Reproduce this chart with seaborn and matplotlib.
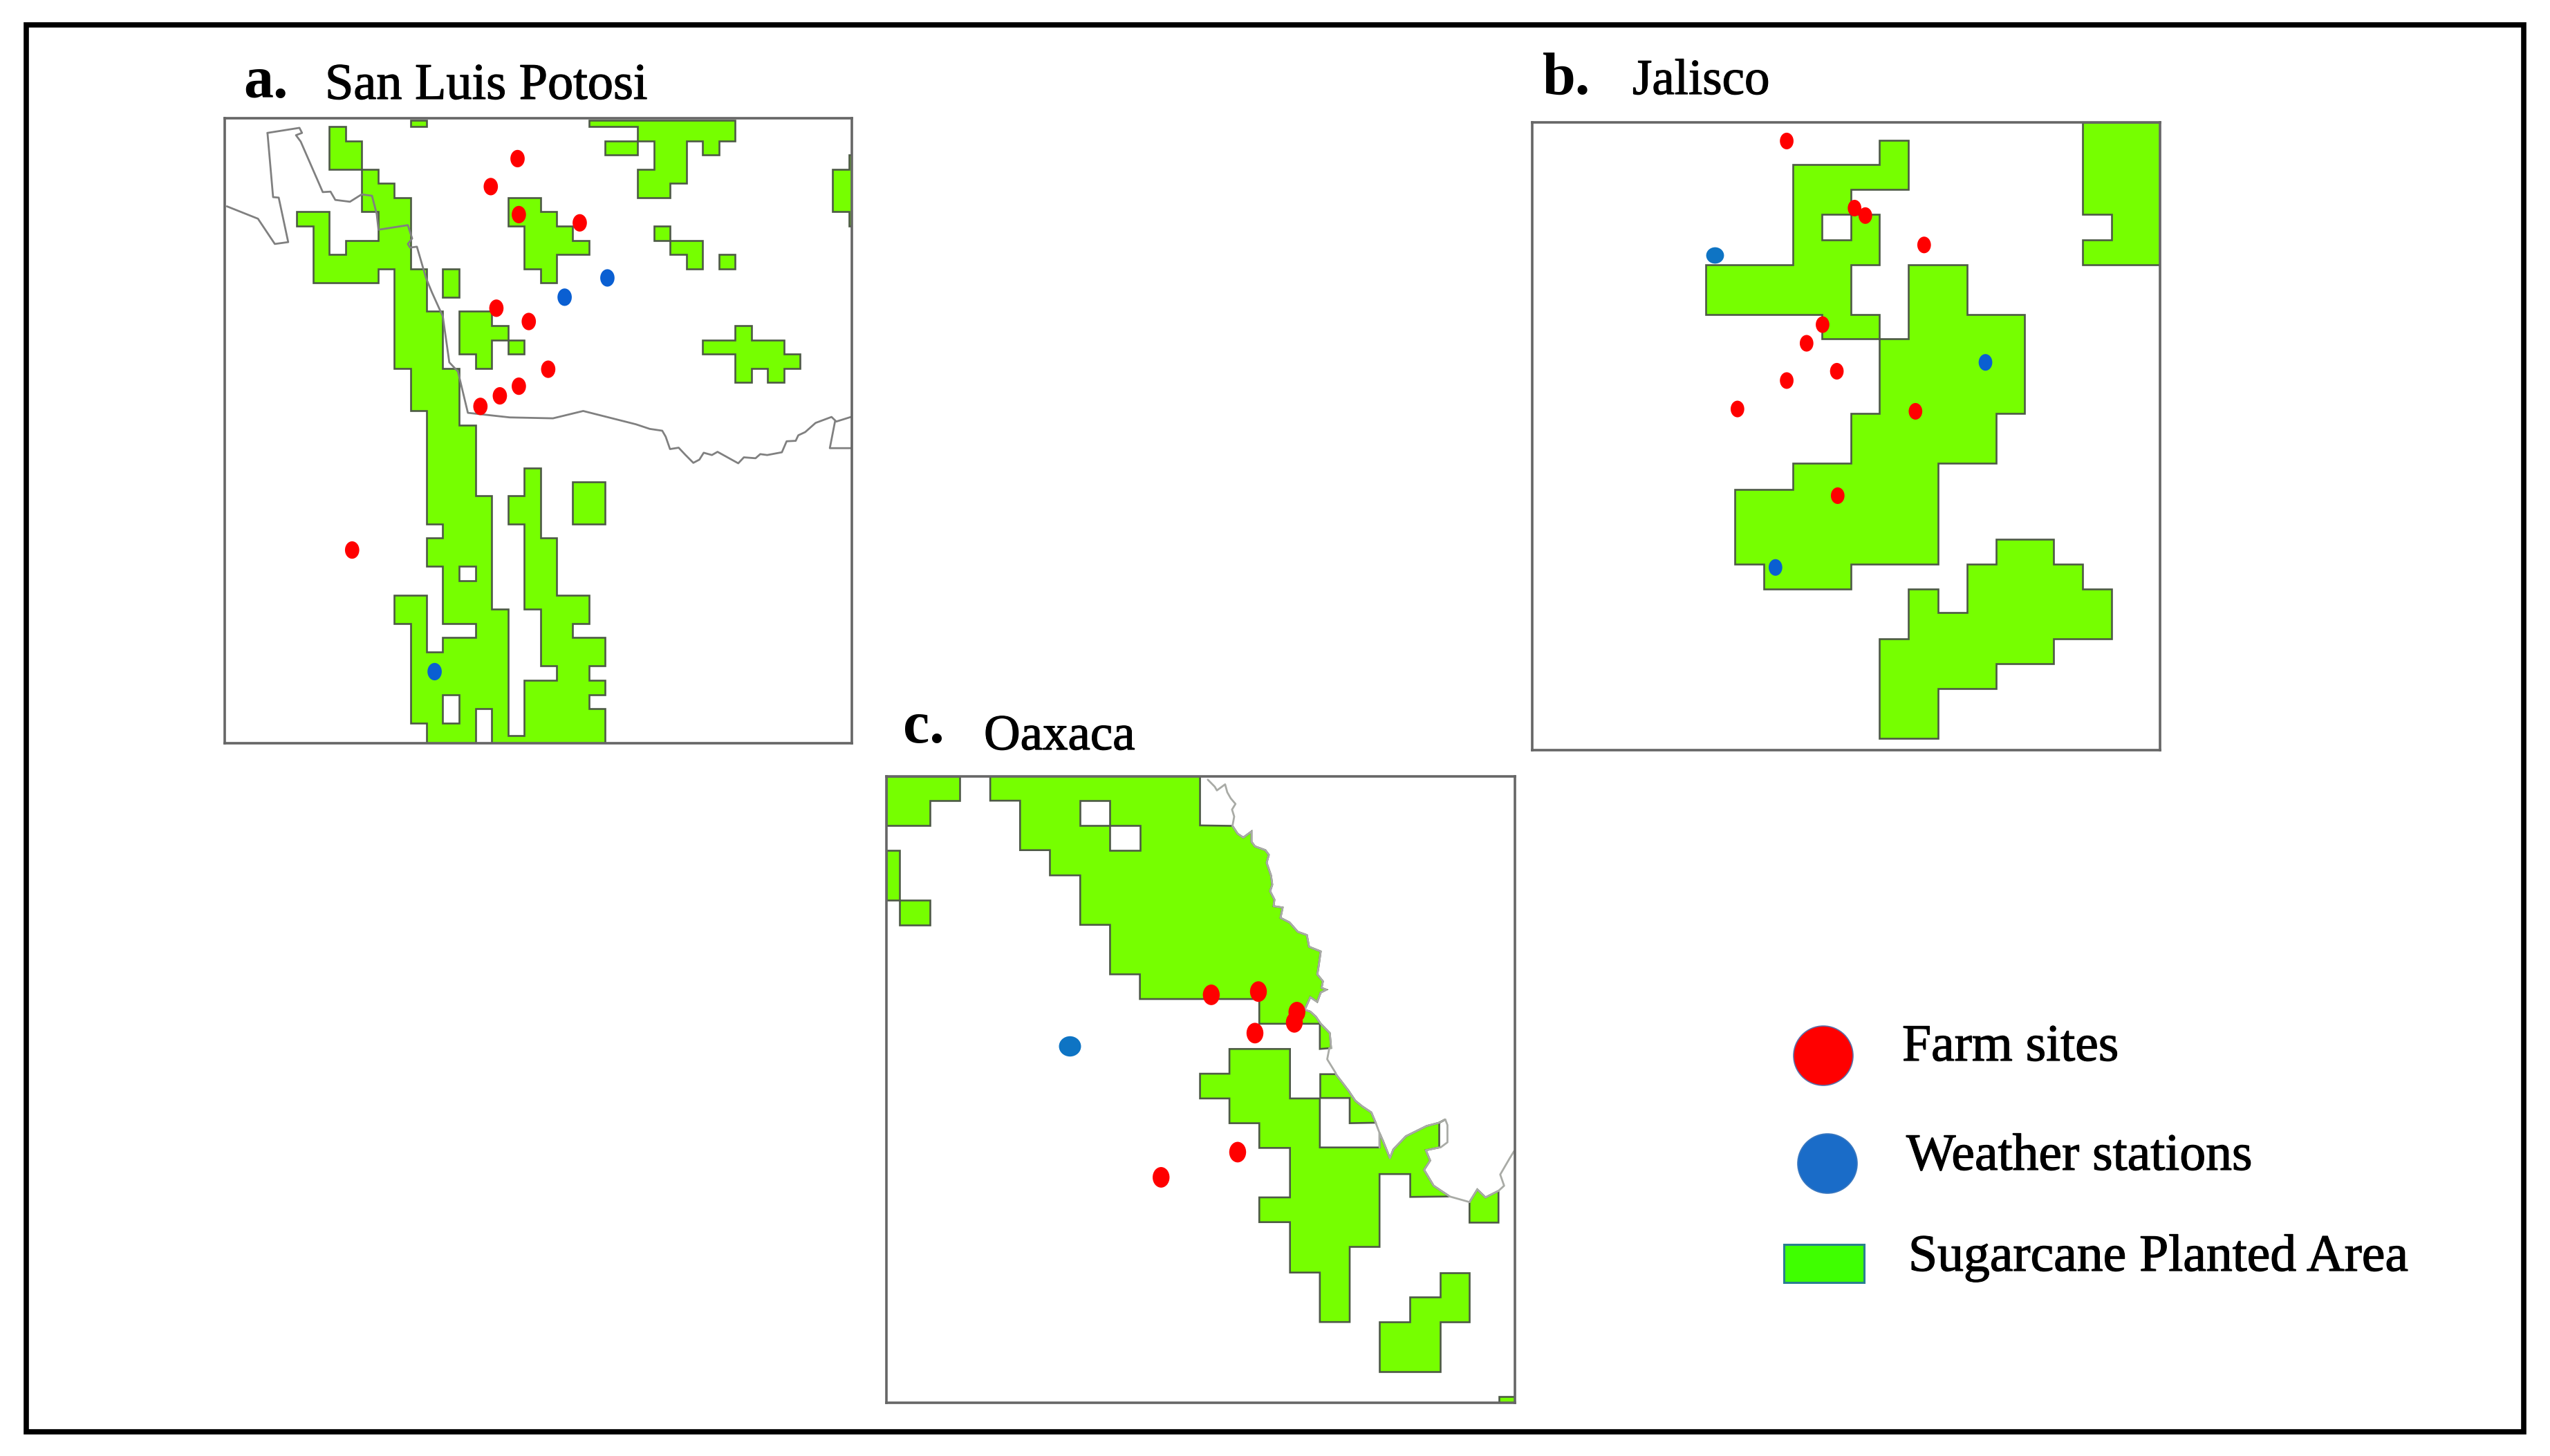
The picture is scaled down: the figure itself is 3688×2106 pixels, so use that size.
import matplotlib
matplotlib.use("Agg")
import matplotlib.pyplot as plt
import matplotlib.patheffects as pe
import pandas as pd
import seaborn as sns
from matplotlib.path import Path
from matplotlib.patches import Rectangle, Circle
from matplotlib.transforms import Affine2D

# ---------- text ----------
panel_letters = ["a.", "b.", "c."]
panel_names = ["San Luis Potosi", "Jalisco", "Oaxaca"]
legend_labels = ["Farm sites", "Weather stations", "Sugarcane Planted Area"]

# ---------- Panel a (map units) ----------
a_limits = (40, 1492, 1530, 168)
a_areas = [
    [(282,186),(320,186),(320,217),(357,217),(357,279),(395,279),(395,310),(432,310),(432,341),(470,341),
     (470,496),(508,496),(508,589),(545,589),(545,713),(583,713),(583,837),(621,837),(621,990),(658,990),
     (658,1238),(696,1238),(696,1514),(733,1514),(733,1393),(808,1393),(808,1362),(771,1362),(771,1238),
     (733,1238),(733,1052),(696,1052),(696,990),(733,990),(733,930),(771,930),(771,1083),(808,1083),
     (808,1207),(883,1207),(883,1269),(846,1269),(846,1300),(921,1300),(921,1362),(883,1362),(883,1393),
     (921,1393),(921,1424),(883,1424),(883,1455),(921,1455),(921,1530),(658,1530),(658,1455),(621,1455),
     (621,1530),(508,1530),(508,1486),(470,1486),(470,1269),(432,1269),(432,1207),(508,1207),(508,1331),
     (545,1331),(545,1300),(621,1300),(621,1269),(545,1269),(545,1145),(508,1145),(508,1083),(545,1083),
     (545,1052),(508,1052),(508,806),(470,806),(470,713),(432,713),(432,496),(395,496),(395,527),(245,527),
     (245,403),(207,403),(207,372),(282,372),(282,465),(320,465),(320,434),(395,434),(395,372),(357,372),
     (357,279),(282,279)],
    [(470,172),(508,172),(508,186),(470,186)],
    [(883,172),(1222,172),(1222,217),(1184,217),(1184,248),(1147,248),(1147,217),(1109,217),(1109,310),
     (1071,310),(1071,341),(996,341),(996,279),(1034,279),(1034,217),(996,217),(996,186),(883,186)],
    [(921,217),(996,217),(996,248),(921,248)],
    [(1447,279),(1485,279),(1485,248),(1492,248),(1492,403),(1485,403),(1485,372),(1447,372)],
    [(696,341),(771,341),(771,372),(808,372),(808,403),(846,403),(846,434),(883,434),(883,465),(808,465),
     (808,527),(771,527),(771,496),(733,496),(733,403),(696,403)],
    [(1034,403),(1071,403),(1071,434),(1147,434),(1147,496),(1109,496),(1109,465),(1071,465),(1071,434),(1034,434)],
    [(1184,465),(1222,465),(1222,496),(1184,496)],
    [(545,496),(583,496),(583,558),(545,558)],
    [(583,589),(658,589),(658,620),(696,620),(696,651),(658,651),(658,713),(621,713),(621,682),(583,682)],
    [(696,651),(733,651),(733,682),(696,682)],
    [(1222,620),(1260,620),(1260,651),(1335,651),(1335,682),(1372,682),(1372,713),(1335,713),(1335,744),
     (1297,744),(1297,713),(1260,713),(1260,744),(1222,744),(1222,682),(1147,682),(1147,651),(1222,651)],
    [(846,961),(921,961),(921,1052),(846,1052)],
]
a_holes = [
    [(583,1145),(621,1145),(621,1176),(583,1176)],
    [(545,1424),(583,1424),(583,1486),(545,1486)],
]
a_borders = [
    [(139,200),(213,189),(219,200),(205,205),(216,219),(267,329),(285,328),(296,346),(330,350),(357,334),
     (381,337),(392,377),(396,411),(464,401),(474,430),(464,442),(469,450),(485,448),(506,516),(520,548),
     (545,600),(560,700),(580,720),(603,810),(700,820),(800,822),(870,806),(992,835),(1024,845),(1053,849),
     (1061,862),(1071,889),(1091,886),(1107,902),(1125,919),(1139,912),(1149,897),(1168,902),(1181,895),
     (1229,920),(1242,907),(1269,909),(1280,900),(1296,902),(1330,896),(1341,872),(1362,871),(1368,859),
     (1384,852),(1408,832),(1445,819),(1456,829),(1490,819)],
    [(139,200),(152,340),(165,341),(187,438),(156,442),(117,387),(45,360)],
    [(1453,829),(1441,887),(1490,887)],
]
a_farm_x = [718,656,721,862,669,744,789,721,677,632,335]
a_farm_y = [256,317,378,396,582,611,715,752,773,796,1109]
a_station_x = [926,827,526]
a_station_y = [516,558,1374]
a_pale_x = []
a_pale_y = []

# ---------- Panel b (map units) ----------
b_limits = (25, 1478, 1520, 173)
b_areas = [
    [(829,211),(896,211),(896,317),(762,317),(762,371),(829,371),(829,478),(762,478),(762,585),(829,585),
     (829,638),(896,638),(896,478),(1031,478),(1031,585),(1164,585),(1164,798),(1098,798),(1098,905),
     (964,905),(964,1121),(762,1121),(762,1175),(561,1175),(561,1121),(494,1121),(494,960),(629,960),
     (629,905),(762,905),(762,798),(829,798),(829,638),(696,638),(696,585),(427,585),(427,478),(629,478),
     (629,264),(829,264)],
    [(1299,173),(1478,173),(1478,478),(1299,478),(1299,425),(1366,425),(1366,371),(1299,371)],
    [(1098,1067),(1231,1067),(1231,1121),(1299,1121),(1299,1175),(1366,1175),(1366,1281),(1231,1281),
     (1231,1334),(1098,1334),(1098,1388),(964,1388),(964,1495),(829,1495),(829,1281),(896,1281),(896,1175),
     (964,1175),(964,1225),(1031,1225),(1031,1121),(1098,1121)],
]
b_holes = [[(696,371),(762,371),(762,425),(696,425)]]
b_borders = []
b_farm_x = [614,771,796,932,697,660,730,614,500,912,732]
b_farm_y = [213,357,373,436,607,647,707,727,788,793,974]
b_station_x = [1074,588]
b_station_y = [688,1128]
b_pale_x = [447]
b_pale_y = [458]

# ---------- Panel c (map units) ----------
c_limits = (20, 1473, 1495, 153)
c_north_coast = [(820,259),(832,276),(845,284),(864,271),(864,293),(872,303),(896,311),(904,321),(899,338),
                 (909,365),(912,385),(907,399),(917,417),(915,431),(936,434),(931,456),(952,466),(971,486),
                 (992,493),(997,518),(1024,528),(1018,567),(1016,577),(1029,592),(1026,606),(1037,610),
                 (1024,616),(1016,636),(1000,626),(987,653),(1000,657),(1013,668),(1024,683),(1045,703),(1048,735)]
c_bay_coast = [(1160,948),(1160,917),(1168,934),(1184,971),(1192,952),(1221,924),(1269,902),(1298,895),(1312,888)]
c_inner_coast = [(1298,948),(1267,954),(1277,976),(1263,996),(1285,1030),(1322,1053)]
c_strip_coast = [(1059,791),(1088,826),(1104,848),(1120,860),(1141,873),(1151,895)]
c_cape_coast = [(1368,1065),(1386,1038),(1405,1055),(1435,1041)]
c_areas = [
    [(20,153),(190,153),(190,205),(120,205),(120,258),(20,258)],
    [(20,311),(51,311),(51,418),(120,418),(120,471),(51,471),(51,418),(20,418)],
    [(260,153),(745,153),(745,258)] + c_north_coast +
    [(1022,737),(1022,683),(882,683),(882,630),(606,630),(606,577),(537,577),
     (537,471),(468,471),(468,365),(398,365),(398,311),(329,311),(329,205),(260,205)],
    [(813,737),(953,737),(953,843),(1022,843),(1022,948)] + c_bay_coast +
    [(1298,895)] + c_inner_coast +
    [(1231,1054),(1231,1005),(1160,1005),(1160,1161),(1091,1161),(1091,1322),(1022,1322),(1022,1216),(953,1216),
     (953,1108),(882,1108),(882,1055),(953,1055),(953,949),(882,949),(882,896),(813,896),(813,843),(745,843),
     (745,790),(813,790)],
    [(1023,791)] + c_strip_coast + [(1091,896),(1091,842),(1023,842)],
    c_cape_coast + [(1435,1109),(1368,1109)],
    [(1300,1216),(1367,1216),(1367,1322),(1300,1322),(1300,1428),(1160,1428),(1160,1322),(1230,1322),
     (1230,1269),(1300,1269)],
    [(1437,1481),(1473,1481),(1473,1495),(1437,1495)],
]
c_holes = [
    [(468,205),(537,205),(537,258),(468,258)],
    [(537,258),(606,258),(606,311),(537,311)],
]
c_borders = [
    [(763,160),(779,175),(784,183),(803,170),(808,187),(816,200),(827,212),(819,224),(824,239),(820,259)],
    c_north_coast,
    [(1044,735),(1039,759),(1059,789)],
    c_strip_coast,
    [(1151,895),(1160,917)],
    c_bay_coast,
    [(1312,888),(1317,900),(1317,937),(1301,948)],
    c_inner_coast,
    [(1322,1053),(1368,1065)],
    c_cape_coast,
    [(1435,1041),(1448,1030),(1439,1006),(1461,971),(1471,956)],
]
c_farm_x = [771,880,963,969,872,832,655]
c_farm_y = [621,614,680,658,703,958,1012]
c_station_x = []
c_station_y = []
c_pale_x = [443]
c_pale_y = [730]

# ---------- styling ----------
sns.set_theme(style="white")
plt.rcParams["font.family"] = ["Liberation Serif", "DejaVu Serif"]

W, H = 3688, 2106
GREEN = "#76ff00"
RED = "#ff0000"
BLUE = "#0a5fd2"
PALE = "#0e74c4"
FRAME = "#666666"
EDGE = "#4d5a45"
BORDER_A = "#808080"
BORDER_C = "#a9aba6"

fig = plt.figure(figsize=(W / 100, H / 100), dpi=100, facecolor="white")

# page layer in pixel coordinates
page = fig.add_axes([0, 0, 1, 1], zorder=0)
page.set_xlim(0, W)
page.set_ylim(H, 0)
page.axis("off")
page.add_patch(Rectangle((37.5, 36), 3612, 2035, fill=False, ec="black", lw=5.5, joinstyle="miter"))

ellipse = Path.unit_circle().transformed(Affine2D().scale(0.82, 1.0))
wide = Path.unit_circle().transformed(Affine2D().scale(1.0, 0.92))


def draw_panel(box, limits, areas, holes, borders, border_color,
               fx, fy, sx, sy, px, py, dot):
    left, right, bottom, top = box
    ax = fig.add_axes([left / W, 1 - bottom / H, (right - left) / W, (bottom - top) / H], zorder=2)
    for poly in areas:
        xs, ys = zip(*poly)
        ax.fill(xs, ys, facecolor=GREEN, edgecolor=EDGE, lw=1.9, joinstyle="miter")
    for poly in holes:
        xs, ys = zip(*poly)
        ax.fill(xs, ys, facecolor="white", edgecolor=EDGE, lw=1.9, joinstyle="miter")
    for line in borders:
        xs, ys = zip(*line)
        ax.plot(xs, ys, color=border_color, lw=2.0)
    points = pd.DataFrame({
        "x": list(fx) + list(sx),
        "y": list(fy) + list(sy),
        "kind": [legend_labels[0]] * len(fx) + [legend_labels[1]] * len(sx),
    })
    sns.scatterplot(data=points, x="x", y="y", hue="kind",
                    palette={legend_labels[0]: RED, legend_labels[1]: BLUE},
                    marker=ellipse, s=dot, linewidth=0, legend=False, ax=ax, zorder=5)
    if px:
        sns.scatterplot(x=px, y=py, color=PALE, marker=wide, s=dot * 1.15,
                        linewidth=0, legend=False, ax=ax, zorder=5)
    ax.set_xlim(limits[0], limits[1])
    ax.set_ylim(limits[2], limits[3])
    ax.set_xticks([])
    ax.set_yticks([])
    ax.set_xlabel("")
    ax.set_ylabel("")
    for s in ax.spines.values():
        s.set_visible(True)
        s.set_color(FRAME)
        s.set_linewidth(2.6)
    return ax


draw_panel((325, 1232, 1075, 171), a_limits, a_areas, a_holes, a_borders, BORDER_A,
           a_farm_x, a_farm_y, a_station_x, a_station_y, a_pale_x, a_pale_y, 330)
draw_panel((2216, 3124, 1085, 177), b_limits, b_areas, b_holes, b_borders, BORDER_C,
           b_farm_x, b_farm_y, b_station_x, b_station_y, b_pale_x, b_pale_y, 300)
draw_panel((1282, 2191, 2029, 1123), c_limits, c_areas, c_holes, c_borders, BORDER_C,
           c_farm_x, c_farm_y, c_station_x, c_station_y, c_pale_x, c_pale_y, 460)

heavy = [pe.withStroke(linewidth=0.9, foreground="black")]

# panel headings
for letter, name, lx, ly, nx, ny, size in zip(panel_letters, panel_names,
                                              (352, 2231, 1306), (141, 136, 1074),
                                              (470, 2361, 1423), (143, 136, 1084),
                                              (53.5, 52.5, 52.5)):
    page.text(lx, ly, letter, fontsize=62, fontweight="bold", ha="left", va="baseline", color="black")
    page.text(nx, ny, name, fontsize=size, ha="left", va="baseline", color="black", path_effects=heavy)

# key
page.add_patch(Circle((2637, 1527), 43, fc="#ff0000", ec="#5a6fa8", lw=1.2))
page.add_patch(Circle((2643, 1683), 43, fc="#1a6cc8", ec="#3a78c0", lw=1.2))
page.add_patch(Rectangle((2580, 1800), 116, 55, fc="#3fff00", ec="#2a7f8f", lw=2.2))
for label, x, y in zip(legend_labels, (2751, 2757, 2760), (1534, 1692, 1838)):
    page.text(x, y, label, fontsize=54.5, ha="left", va="baseline", color="black", path_effects=heavy)

fig.savefig("out.png", dpi=100)
